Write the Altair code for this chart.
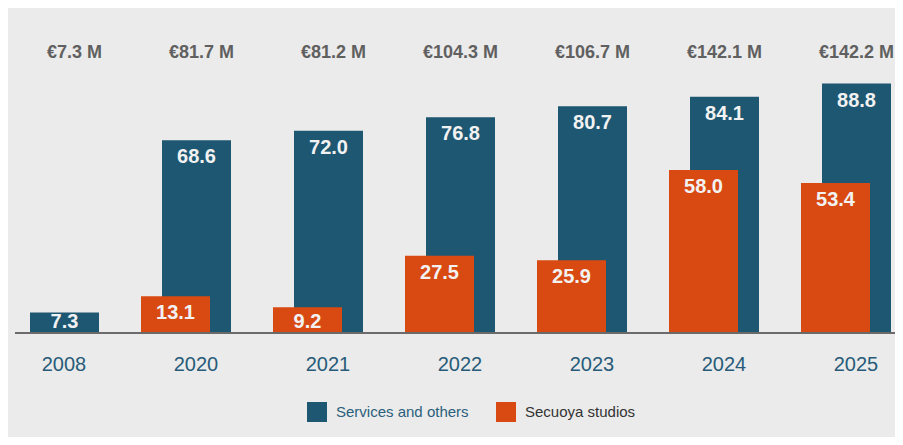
import altair as alt
import pandas as pd

years = ["2008", "2020", "2021", "2022", "2023", "2024", "2025"]
services = [7.3, 68.6, 72.0, 76.8, 80.7, 84.1, 88.8]
studios = [None, 13.1, 9.2, 27.5, 25.9, 58.0, 53.4]
totals = ["€7.3 M", "€81.7 M", "€81.2 M", "€104.3 M", "€106.7 M", "€142.1 M", "€142.2 M"]

S_NAME = "Services and others"
O_NAME = "Secuoya studios"
BLUE = "#1e5771"
ORANGE = "#d94a12"

rows = []
for y, s, o in zip(years, services, studios):
    rows.append({"year": y, "series": S_NAME, "value": s})
    if o is not None:
        rows.append({"year": y, "series": O_NAME, "value": o})
df = pd.DataFrame(rows)
tot_df = pd.DataFrame({"year": years, "total": totals})

FONT = "Liberation Sans"
xscale = alt.Scale(domain=years, range=[-20, 904], paddingInner=0, paddingOuter=0)
yscale = alt.Scale(domain=[0, 115.7])
color = alt.Color(
    "series:N",
    scale=alt.Scale(domain=[S_NAME, O_NAME], range=[BLUE, ORANGE]),
    legend=alt.Legend(
        title=None, orient="none", legendX=299, legendY=394, direction="horizontal",
        symbolType="square", symbolSize=400, symbolStrokeWidth=0, symbolOpacity=1,
        labelFont=FONT, labelFontSize=15, labelOffset=9, columnPadding=27, padding=0,
        labelColor=alt.ExprRef("datum.label == 'Services and others' ? '#2a5f7c' : '#333333'"),
    ),
)

xenc = alt.X("year:N", scale=xscale,
             axis=alt.Axis(title=None, domain=False, ticks=False, labelAngle=0,
                           labelFont=FONT, labelFontSize=20, labelColor="#275b79",
                           labelPadding=21, labelOffset=10))

blue = alt.Chart(df).transform_filter(alt.datum.series == S_NAME).mark_bar(
    width=69, xOffset=10.5).encode(
    x=xenc, y=alt.Y("value:Q", scale=yscale, axis=None), color=color)
orange = alt.Chart(df).transform_filter(alt.datum.series == O_NAME).mark_bar(
    width=69, xOffset=-10.5).encode(
    x=alt.X("year:N", scale=xscale), y=alt.Y("value:Q", scale=yscale), color=color)

def labels(name, off):
    return alt.Chart(df).transform_filter(alt.datum.series == name).transform_calculate(
        pos="max(datum.value - 8.2, 1.8)",
        txt="format(datum.value, '.1f')").mark_text(
        font=FONT, fontSize=20, fontWeight="bold", color="#f2f2f2",
        baseline="alphabetic", xOffset=off).encode(
        x=alt.X("year:N", scale=xscale), y=alt.Y("pos:Q", scale=yscale), text="txt:N")

tot = alt.Chart(tot_df).mark_text(
    font=FONT, fontSize=18, fontWeight="bold", color="#606060",
    baseline="middle", align="right", xOffset=48).encode(
    x=alt.X("year:N", scale=xscale), y=alt.value(45), text="total:N")

base = alt.Chart(tot_df).mark_rule(color="#6a6a6a", strokeWidth=1.2).encode(
    x=alt.value(7), x2=alt.value(887), y=alt.value(325))

chart = alt.layer(blue, orange, labels(S_NAME, 10.5), labels(O_NAME, -10.5), tot, base).properties(
    width=887, height=325,
    autosize=alt.AutoSizeParams(type="none"),
    padding={"left": 0, "top": 0, "right": 0, "bottom": 104},
    background="#ebebeb",
).configure_view(stroke=None)

chart.save("out.html", embed_options={"renderer": "svg", "actions": False})
